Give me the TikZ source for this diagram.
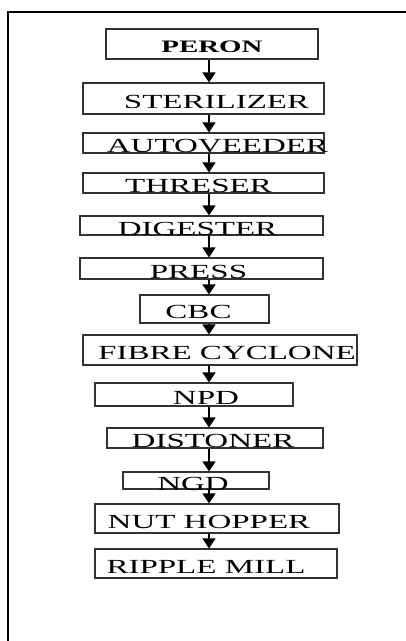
\documentclass[tikz,border=0pt]{standalone}
\usepackage{fontspec}
\setmainfont{Liberation Serif}
\usetikzlibrary{arrows.meta}
\colorlet{box edge}{black!80}
\colorlet{flow line}{black}
\tikzset{stage/.style={draw=box edge, line width=1.1pt, inner sep=0pt,
        font=\fontsize{20}{23}\selectfont},
    flow/.style={draw=flow line, line width=1.4pt, -{Triangle[width=13pt,length=10pt]}}}
% text stretched sideways, shifted inside its box by #1
\newcommand{\wide}[2]{\makebox[0pt]{\hspace*{#1}%
    \raisebox{-3pt}[\height][\depth]{\scalebox{1.65}[1]{#2}}}}

\begin{document}
\begin{tikzpicture}[x=1pt,y=-1pt]
    \useasboundingbox (0,0) rectangle (406,641);
    \draw[line width=1.8pt] (406,12) -- (8,12) -- (8,641);
    \coordinate (axis) at (209,0);
    \node[stage, minimum width=212pt, minimum height=30pt] (peron) at (212,44)
        {\wide{0pt}{\fontsize{17.5}{20}\selectfont\bfseries PERON}};
    \node[stage, minimum width=241pt, minimum height=31pt] (steril) at (203.5,98.5) {\wide{26pt}{STERILIZER}};
    \node[stage, minimum width=241pt, minimum height=20pt] (autov) at (203.5,143) {\wide{28pt}{AUTOVEEDER}};
    \node[stage, minimum width=241pt, minimum height=20pt] (threser) at (203.5,183) {\wide{-10pt}{THRESER}};
    \node[stage, minimum width=243pt, minimum height=19pt] (digest) at (201.5,225.5) {\wide{-8pt}{DIGESTER}};
    \node[stage, minimum width=243pt, minimum height=21pt] (press) at (201.5,268.5) {\wide{-6pt}{PRESS}};
    \node[stage, minimum width=129pt, minimum height=28pt] (cbc) at (204.5,309) {\wide{-12pt}{CBC}};
    \node[stage, minimum width=274pt, minimum height=30pt] (fibre) at (220,350) {\wide{14pt}{FIBRE CYCLONE}};
    \node[stage, minimum width=198pt, minimum height=23pt] (npd) at (194,394.5) {\wide{24pt}{NPD}};
    \node[stage, minimum width=216pt, minimum height=20pt] (disto) at (215,438) {\wide{-4pt}{DISTONER}};
    \node[stage, minimum width=146pt, minimum height=17pt] (ngd) at (196,480.5) {\wide{-6pt}{NGD}};
    \node[stage, minimum width=244pt, minimum height=29pt] (nuthop) at (217,518.5) {\wide{-16pt}{NUT HOPPER}};
    \node[stage, minimum width=242pt, minimum height=29pt] (ripple) at (216,563.5) {\wide{-20pt}{RIPPLE MILL}};
    \foreach \a/\b in {peron/steril, steril/autov, autov/threser, threser/digest,
            digest/press, press/cbc, cbc/fibre, fibre/npd, npd/disto,
            disto/ngd, ngd/nuthop, nuthop/ripple}
        \draw[flow] (\a.south -| axis) -- (\b.north -| axis);
\end{tikzpicture}
\end{document}
